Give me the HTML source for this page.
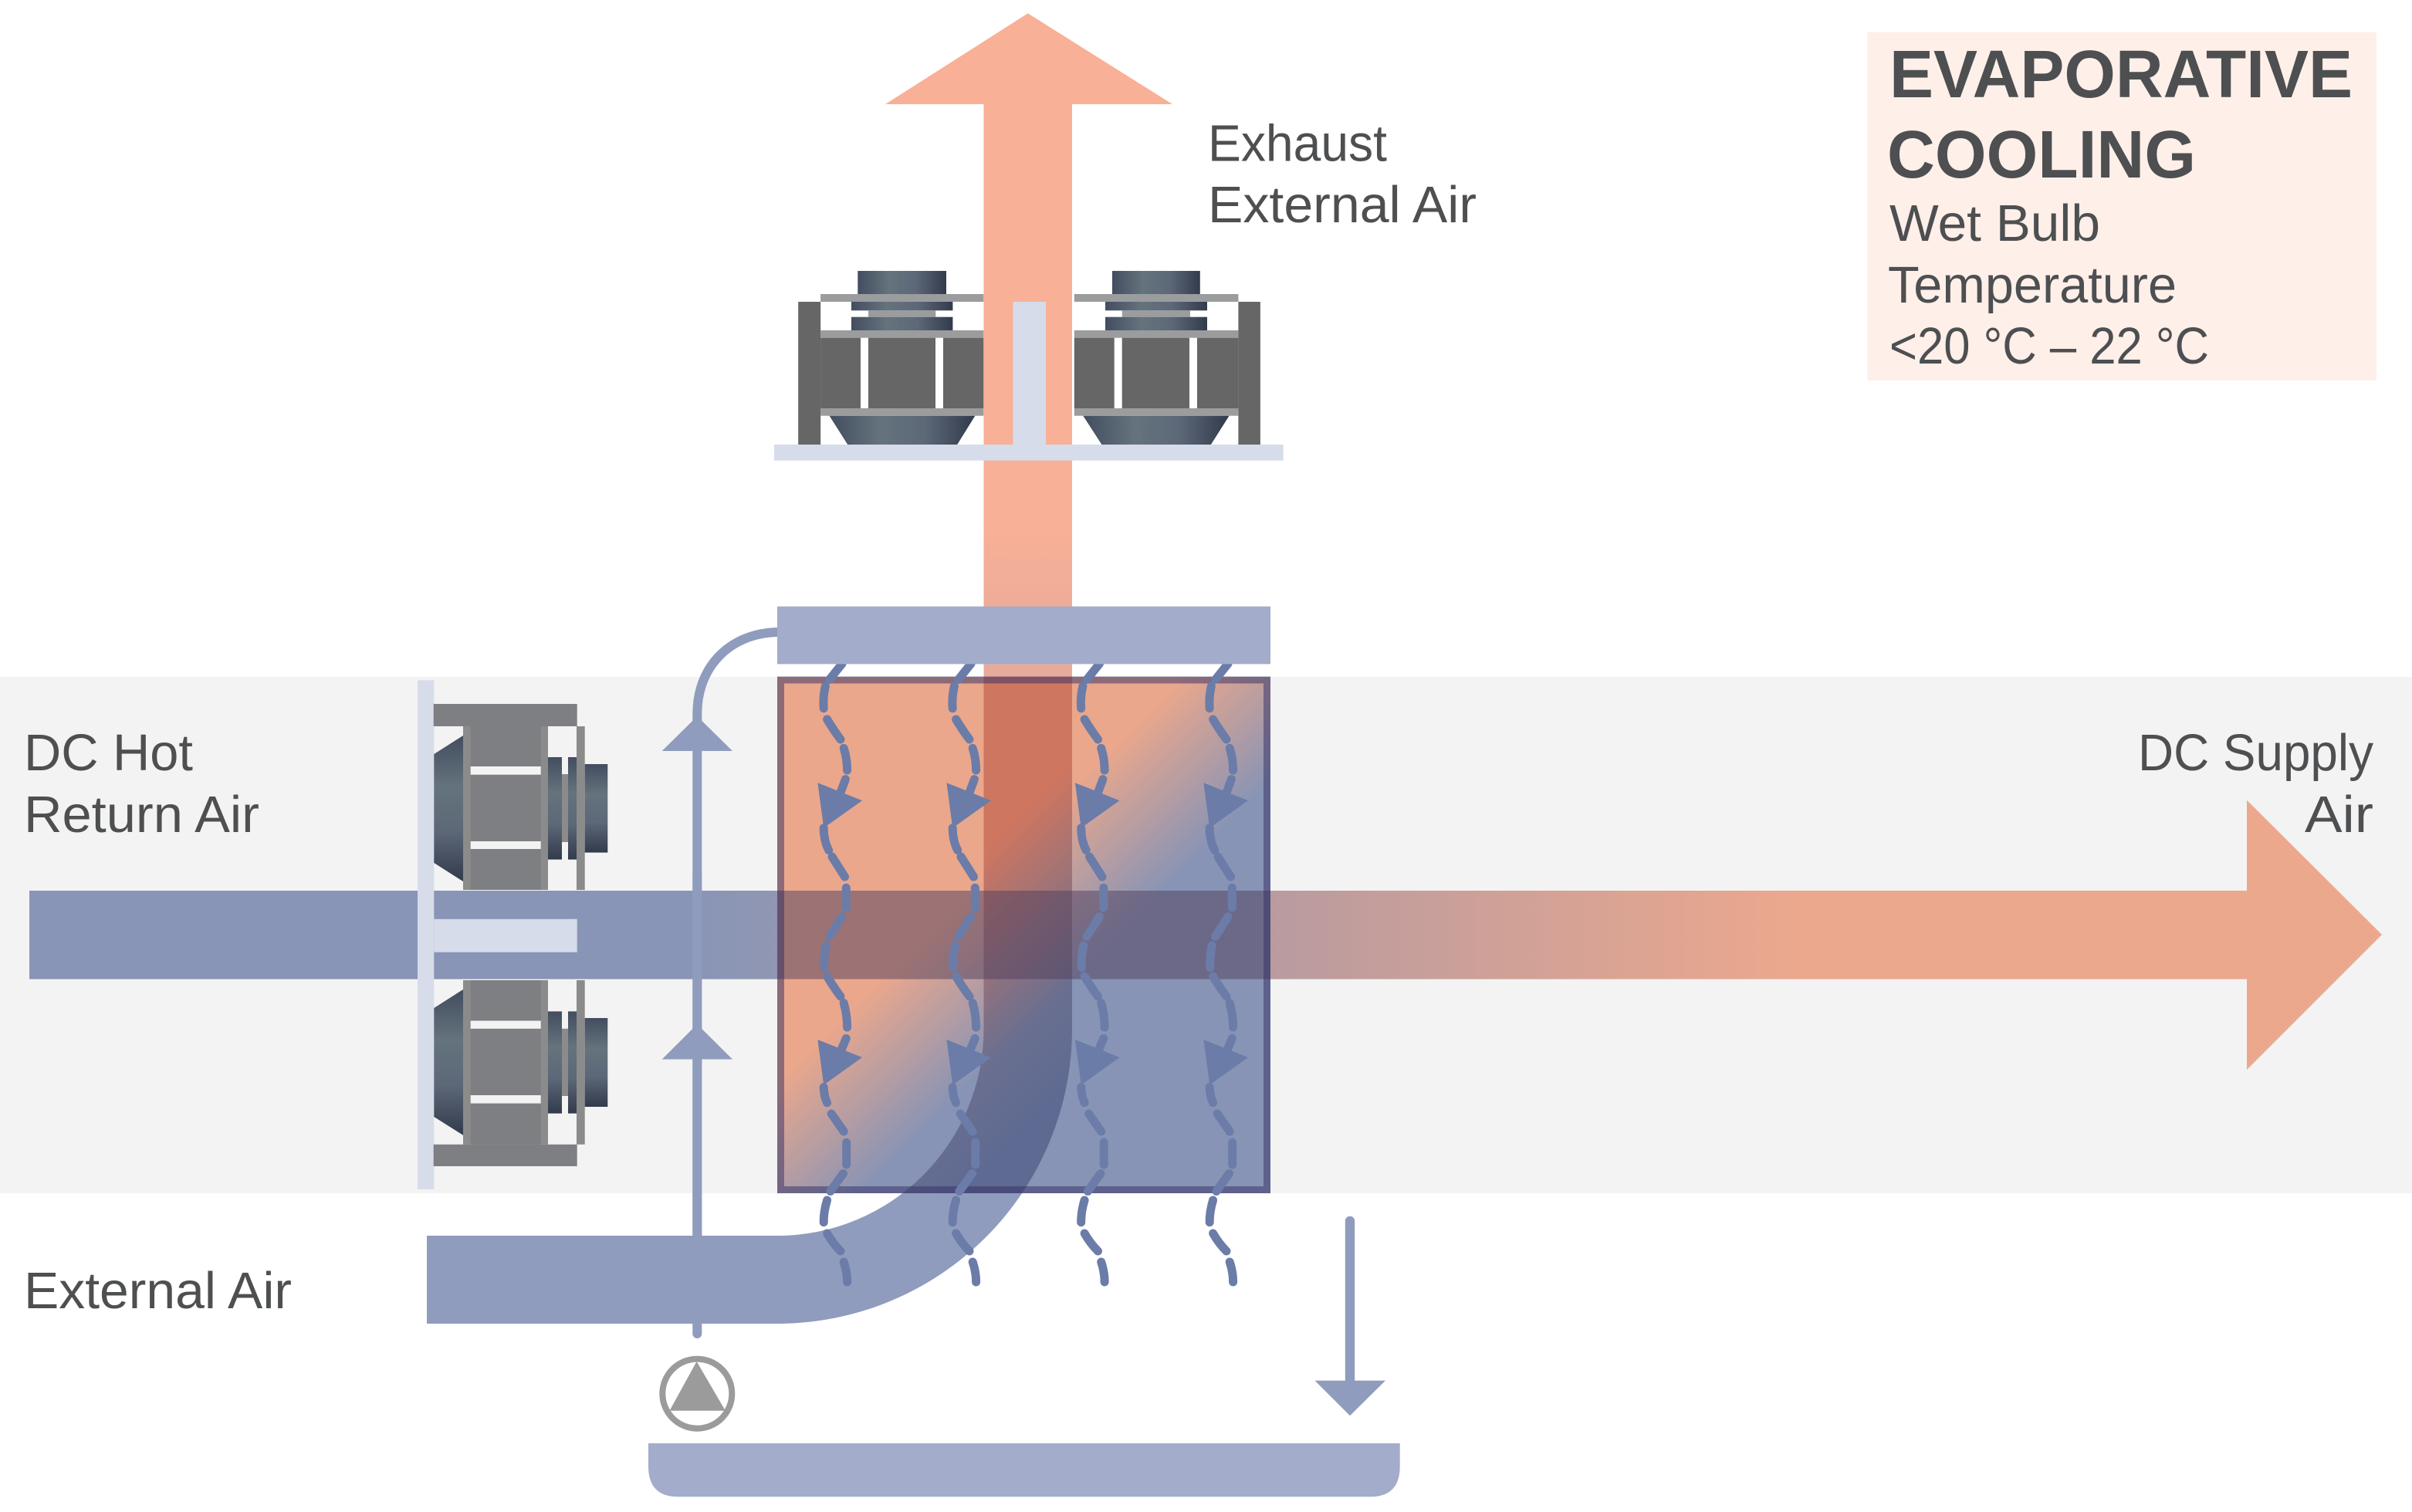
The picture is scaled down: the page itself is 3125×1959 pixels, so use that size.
<!DOCTYPE html>
<html lang="en"><head><meta charset="utf-8"><title>Evaporative Cooling</title>
<style>html,body{margin:0;padding:0;background:#fff}svg{display:block}
text{font-family:"Liberation Sans",sans-serif;fill:#4d4f51;font-size:67px}
text.b{font-weight:bold;font-size:87px}</style></head><body>
<svg xmlns="http://www.w3.org/2000/svg" width="3125" height="1959" viewBox="0 0 3125 1959">
<defs>
<linearGradient id="mh" x1="0" y1="0" x2="1" y2="0"><stop offset="0" stop-color="#434d60"/><stop offset=".35" stop-color="#64737c"/><stop offset=".65" stop-color="#5d6878"/><stop offset="1" stop-color="#323b4b"/></linearGradient>
<linearGradient id="mv" x1="0" y1="0" x2="0" y2="1"><stop offset="0" stop-color="#434d60"/><stop offset=".35" stop-color="#64737c"/><stop offset=".65" stop-color="#5d6878"/><stop offset="1" stop-color="#323b4b"/></linearGradient>
<linearGradient id="pad" gradientUnits="userSpaceOnUse" x1="1205" y1="1205" x2="1330" y2="1330"><stop offset="0" stop-color="#eaa78c"/><stop offset="1" stop-color="#8894b5"/></linearGradient>
<linearGradient id="curve" gradientUnits="userSpaceOnUse" x1="1190" y1="1190" x2="1400" y2="1400"><stop offset="0" stop-color="#ce7660"/><stop offset=".667" stop-color="#6a6f90"/><stop offset="1" stop-color="#5e6a92"/></linearGradient>
<linearGradient id="duct" gradientUnits="userSpaceOnUse" x1="38" y1="0" x2="2911" y2="0"><stop offset=".3" stop-color="#8995b6"/><stop offset=".56" stop-color="#b99b9f"/><stop offset=".8" stop-color="#eca88d"/></linearGradient>
<linearGradient id="col" gradientUnits="userSpaceOnUse" x1="0" y1="690" x2="0" y2="786"><stop offset="0" stop-color="#f8b097"/><stop offset="1" stop-color="#eeac98"/></linearGradient>
<clipPath id="inbox"><rect x="1007" y="877" width="639" height="669"/></clipPath>
<clipPath id="below"><rect x="500" y="1546" width="1200" height="200"/></clipPath>
<path id="cv" d="M1274.5 860H1389V1333A382 382 0 0 1 1007 1715H553V1601H1007A267.5 268 0 0 0 1274.5 1333Z"/>
<g id="w" fill="none" stroke="#6b7ca8" stroke-width="11" stroke-linecap="round">
<path d="M1091 860L1074.6 880.5"/><path d="M1069.4 889Q1066 903 1067.2 917.8"/><path d="M1071.6 932Q1080 946 1089 958"/><path d="M1093.2 969.4Q1097.6 983 1097.6 998"/><path d="M1095.4 1009.6L1089 1027"/>
<path d="M1067.2 1072.8Q1067.5 1090 1073.7 1101.5"/><path d="M1078 1110L1094.5 1136"/><path d="M1096.3 1150.3V1176"/><path d="M1091 1187.6L1074.6 1213.4"/><path d="M1070.3 1225Q1067 1240 1068 1253.6"/><path d="M1071.6 1265Q1080 1279 1089 1291"/><path d="M1093.2 1299.5Q1097.6 1315 1097.6 1331"/><path d="M1096.3 1345.4L1089 1362.7"/>
<path d="M1067.2 1408.6Q1067.5 1420 1071.6 1428.7"/><path d="M1077.2 1443L1093.2 1466"/><path d="M1096.7 1480.3V1509"/><path d="M1092.4 1520.5L1075.9 1543.5"/><path d="M1071.6 1555Q1067 1570 1067.2 1583.7"/><path d="M1071.6 1598Q1079 1611 1089 1621"/><path d="M1093.2 1635Q1097.6 1648 1097.6 1661"/>
<path stroke="none" fill="#6b7ca8" d="M1059.4 1014.2L1117 1037.2L1067.2 1072.8Z"/><path stroke="none" fill="#6b7ca8" d="M1059.4 1347L1117 1370L1067.2 1405.7Z"/>
</g>
</defs>
<rect width="3125" height="1959" fill="#fff"/>
<rect y="877" width="3125" height="669" fill="#f3f3f3"/>

<!-- exhaust arrow -->
<path d="M1331.7 17.3L1519 135H1389V786H1274.5V135H1147Z" fill="url(#col)"/>

<!-- left rooftop motor -->
<rect x="1034.2" y="391" width="29" height="186" fill="#666"/>
<rect x="1111.3" y="351" width="114.7" height="30" fill="url(#mh)"/>
<rect x="1063.1" y="381" width="211.2" height="10" fill="#9b9c9e"/>
<rect x="1103" y="391" width="131.4" height="11.3" fill="url(#mh)"/>
<rect x="1125" y="402.3" width="87.3" height="8.4" fill="#9b9c9e"/>
<rect x="1103" y="410.7" width="131.4" height="17.3" fill="url(#mh)"/>
<rect x="1063.1" y="428" width="211.2" height="9.7" fill="#9b9c9e"/>
<rect x="1063.1" y="437.7" width="211.2" height="91.3" fill="#666"/>
<rect x="1115" y="437.7" width="10" height="91.3" fill="#fff"/>
<rect x="1212" y="437.7" width="10" height="91.3" fill="#fff"/>
<rect x="1063.1" y="529" width="211.2" height="9.7" fill="#9b9c9e"/>
<path d="M1074.6 538.7H1263.3L1239.9 576.5H1098.5Z" fill="url(#mh)"/>
<!-- right rooftop motor -->
<rect x="1604.4" y="391" width="28.5" height="186" fill="#666"/>
<rect x="1441" y="351" width="113.8" height="30" fill="url(#mh)"/>
<rect x="1391.8" y="381" width="212.6" height="10" fill="#9b9c9e"/>
<rect x="1432" y="391" width="132" height="11.3" fill="url(#mh)"/>
<rect x="1453.8" y="402.3" width="88.2" height="8.4" fill="#9b9c9e"/>
<rect x="1432" y="410.7" width="132" height="17.3" fill="url(#mh)"/>
<rect x="1391.8" y="428" width="212.6" height="9.7" fill="#9b9c9e"/>
<rect x="1391.8" y="437.7" width="212.6" height="91.3" fill="#666"/>
<rect x="1443.7" y="437.7" width="10" height="91.3" fill="#fff"/>
<rect x="1541" y="437.7" width="10" height="91.3" fill="#fff"/>
<rect x="1391.8" y="529" width="212.6" height="9.7" fill="#9b9c9e"/>
<path d="M1403.3 538.7H1592.5L1568.6 576.5H1427.7Z" fill="url(#mh)"/>
<rect x="1003" y="576" width="659.7" height="20.7" fill="#d6dcea"/>
<rect x="1312.4" y="391" width="42.6" height="190" fill="#d6dcea"/>

<!-- water feed pipe -->
<path d="M903.3 1728V925C903.3 860 950 819 1010 819" fill="none" stroke="#8f9cbd" stroke-width="12" stroke-linecap="round"/>

<!-- pad -->
<rect x="1007" y="877" width="639" height="669" fill="url(#pad)"/>
<rect x="1274.5" y="860" width="114.5" height="17" fill="#e8ab9b"/>
<use href="#cv" fill="url(#curve)" clip-path="url(#inbox)"/>
<use href="#cv" fill="#8f9cbd" clip-path="url(#below)"/>
<rect x="38" y="1154" width="969" height="114.6" fill="url(#duct)"/>
<rect x="1646" y="1154" width="1265" height="114.6" fill="url(#duct)"/>
<rect x="1007" y="1154" width="639" height="114.6" fill="#503e5c" fill-opacity=".5"/>
<path d="M2911 1036.7L3086 1211L2911 1386Z" fill="#eca88d"/>
<rect x="1011.5" y="881" width="630" height="660.5" fill="none" stroke="#363266" stroke-opacity=".52" stroke-width="9"/>
<path d="M903.3 1130V1601" fill="none" stroke="#8f9cbd" stroke-width="12"/>
<path d="M903.3 928L949 973H857.7Z" fill="#8f9cbd"/>
<path d="M903.3 1327L949 1372.5H857.7Z" fill="#8f9cbd"/>

<!-- water dashes -->
<use href="#w"/><use href="#w" x="167"/><use href="#w" x="333.5"/><use href="#w" x="500"/>
<rect x="1007" y="785.7" width="639" height="74.7" fill="#a3acca"/>

<!-- left motors -->
<rect x="541" y="881.4" width="21.3" height="659.6" fill="#d6dcea"/>
<rect x="562.3" y="1190.8" width="185.4" height="42.9" fill="#d6dcea"/>
<g>
<rect x="561.7" y="912" width="186" height="29" fill="#7e7f82"/>
<path d="M562.3 977L600 953V1142L562.3 1118Z" fill="url(#mv)"/>
<rect x="600" y="941" width="110" height="212" fill="#8b8b8b"/>
<rect x="609.7" y="941" width="91" height="212" fill="#7e7f82"/>
<rect x="609.7" y="993" width="91" height="10.7" fill="#f3f3f3"/>
<rect x="609.7" y="1090" width="91" height="10" fill="#f3f3f3"/>
<rect x="710" y="981" width="18" height="132.6" fill="url(#mv)"/>
<rect x="728" y="1003" width="8" height="88" fill="#8b8b8b"/>
<rect x="736" y="981" width="11" height="132.6" fill="url(#mv)"/>
<rect x="747" y="941" width="10.7" height="212" fill="#8b8b8b"/>
<rect x="757.7" y="990" width="29.6" height="114.6" fill="url(#mv)"/>
</g>
<g>
<path d="M562.3 1306L600 1282V1470.7L562.3 1447Z" fill="url(#mv)"/>
<rect x="600" y="1270" width="110" height="212.8" fill="#8b8b8b"/>
<rect x="609.7" y="1270" width="91" height="212.8" fill="#7e7f82"/>
<rect x="609.7" y="1322.5" width="91" height="10.3" fill="#f3f3f3"/>
<rect x="609.7" y="1419" width="91" height="10.6" fill="#f3f3f3"/>
<rect x="710" y="1310.4" width="18" height="132.2" fill="url(#mv)"/>
<rect x="728" y="1332.8" width="8" height="87.2" fill="#8b8b8b"/>
<rect x="736" y="1310.4" width="11" height="132.2" fill="url(#mv)"/>
<rect x="747" y="1270" width="10.7" height="212.8" fill="#8b8b8b"/>
<rect x="757.7" y="1319" width="29.6" height="115" fill="url(#mv)"/>
<rect x="561.7" y="1482.8" width="186" height="28.2" fill="#7e7f82"/>
</g>

<!-- pump -->
<circle cx="903.3" cy="1805.7" r="45" fill="#fff" stroke="#9b9b9b" stroke-width="8"/>
<path d="M902.6 1764L939.8 1827.7H867.5Z" fill="#9b9b9b"/>

<!-- drain arrow and basin -->
<path d="M1749 1582V1790" stroke="#8f9cbd" stroke-width="12.4" stroke-linecap="round" fill="none"/>
<path d="M1703.5 1788.7H1795L1749 1834.3Z" fill="#8f9cbd"/>
<path d="M840 1870H1813.7V1900Q1813.7 1939.3 1775 1939.3H879Q840 1939.3 840 1900Z" fill="#a3acca"/>

<!-- legend -->
<rect x="2419.4" y="41.7" width="659.6" height="451.3" fill="#feefe9"/>
<text class="b" x="2448" y="126" textLength="600" lengthAdjust="spacingAndGlyphs">EVAPORATIVE</text>
<text class="b" x="2445" y="230" textLength="400" lengthAdjust="spacingAndGlyphs">COOLING</text>
<text x="2448" y="312" textLength="273" lengthAdjust="spacingAndGlyphs">Wet Bulb</text>
<text x="2446" y="392" textLength="374" lengthAdjust="spacingAndGlyphs">Temperature</text>
<text x="2448" y="471" textLength="414" lengthAdjust="spacingAndGlyphs">&lt;20 °C – 22 °C</text>

<!-- labels -->
<text x="1565" y="208.5" textLength="232" lengthAdjust="spacingAndGlyphs">Exhaust</text>
<text x="1565" y="288" textLength="348" lengthAdjust="spacingAndGlyphs">External Air</text>
<text x="31" y="998" textLength="219" lengthAdjust="spacingAndGlyphs">DC Hot</text>
<text x="31" y="1078" textLength="305" lengthAdjust="spacingAndGlyphs">Return Air</text>
<text x="31" y="1695" textLength="347" lengthAdjust="spacingAndGlyphs">External Air</text>
<text x="2770" y="998" textLength="305" lengthAdjust="spacingAndGlyphs">DC Supply</text>
<text x="2986" y="1078" textLength="89" lengthAdjust="spacingAndGlyphs">Air</text>
</svg>
</body></html>
